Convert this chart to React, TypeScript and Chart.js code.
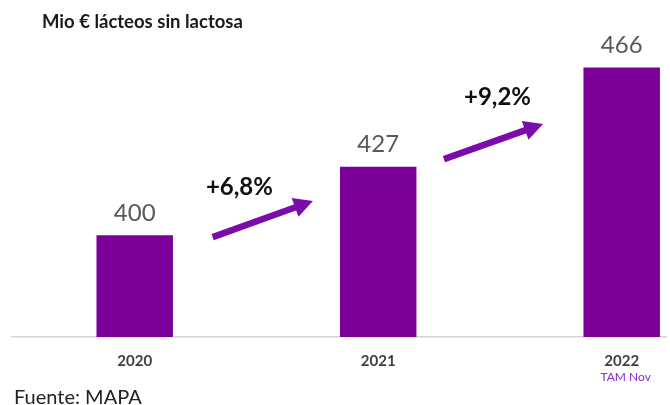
import React, { useEffect, useRef } from "react";
import { Chart, registerables } from "chart.js";

Chart.register(...registerables);

const categories = ["2020", "2021", "2022"];
const values = [400, 427, 466];
const growthLabels = ["+6,8%", "+9,2%"];
// arrows in data units: [x, y]
const arrowFrom = [
  [0.32, 399.3],
  [1.27, 430],
];
const arrowTo = [
  [0.732, 413.5],
  [1.677, 443.8],
];
const growthLabelAt = [
  [0.43, 419],
  [1.49, 454.4],
];
const titleText = "Mio € lácteos sin lactosa";
const sourceText = "Fuente: MAPA";
const lastNote = "TAM Nov";

const BAR = "#7a0099";
const ARROW = "#7a0cab";

const overlay = {
  id: "overlay",
  afterDatasetsDraw(chart: any) {
    const ctx = chart.ctx;
    const xs = chart.scales.x;
    const ys = chart.scales.y;
    ctx.save();
    const meta = chart.getDatasetMeta(0);
    ctx.fillStyle = "#595959";
    ctx.font = "24px Lato";
    ctx.textAlign = "center";
    ctx.textBaseline = "middle";
    meta.data.forEach((bar: any, i: number) => {
      ctx.fillText(String(values[i]), bar.x, bar.y - 22);
    });
    arrowFrom.forEach((f, i) => {
      const t = arrowTo[i];
      const x1 = xs.getPixelForValue(f[0]);
      const y1 = ys.getPixelForValue(f[1]);
      const x2 = xs.getPixelForValue(t[0]);
      const y2 = ys.getPixelForValue(t[1]);
      const dx = x2 - x1;
      const dy = y2 - y1;
      const len = Math.hypot(dx, dy);
      const ux = dx / len;
      const uy = dy / len;
      const headLen = 19;
      const half = 10;
      const bx = x2 - ux * headLen;
      const by = y2 - uy * headLen;
      ctx.strokeStyle = ARROW;
      ctx.lineWidth = 6.5;
      ctx.lineCap = "butt";
      ctx.beginPath();
      ctx.moveTo(x1, y1);
      ctx.lineTo(bx + ux * 2, by + uy * 2);
      ctx.stroke();
      ctx.fillStyle = ARROW;
      ctx.beginPath();
      ctx.moveTo(x2, y2);
      ctx.lineTo(bx - uy * half, by + ux * half);
      ctx.lineTo(bx + uy * half, by - ux * half);
      ctx.closePath();
      ctx.fill();
    });
    ctx.fillStyle = "#111111";
    ctx.font = "bold 24px Lato";
    growthLabels.forEach((g, i) => {
      const p = growthLabelAt[i];
      ctx.fillText(g, xs.getPixelForValue(p[0]), ys.getPixelForValue(p[1]));
    });
    ctx.fillStyle = "#8c2ad6";
    ctx.font = "12px Lato";
    ctx.fillText(lastNote, xs.getPixelForValue(2) + 4, 377);
    ctx.textAlign = "left";
    ctx.textBaseline = "alphabetic";
    ctx.fillStyle = "#1a1a1a";
    ctx.font = "bold 18.5px Lato";
    ctx.fillText(titleText, 42, 28);
    ctx.fillStyle = "#222222";
    ctx.font = "20px Lato";
    ctx.fillText(sourceText, 14, 404);
    ctx.restore();
  },
};

export default function App() {
  const ref = useRef<HTMLCanvasElement | null>(null);
  useEffect(() => {
    if (!ref.current) return;
    const chart = new Chart(ref.current, {
      type: "bar",
      data: {
        datasets: [
          {
            data: values.map((v, i) => ({ x: i, y: v })),
            backgroundColor: BAR,
            borderWidth: 0,
            barPercentage: 0.314,
            categoryPercentage: 1,
          },
        ],
      },
      options: {
        responsive: false,
        animation: false,
        layout: { padding: { left: 12, right: 4, top: 32, bottom: 20 } },
        plugins: {
          legend: { display: false },
          tooltip: { enabled: false },
          title: { display: false },
        },
        scales: {
          x: {
            type: "linear",
            offset: false,
            min: -0.504,
            max: 2.182,
            grid: { display: false, drawTicks: false, offset: false },
            border: { display: true, color: "#d4d4d4", width: 1.5 },
            afterBuildTicks: (s: any) => {
              s.ticks = categories.map((_, i) => ({ value: i }));
            },
            ticks: {
              padding: 15,
              autoSkip: false,
              maxRotation: 0,
              color: "#404040",
              font: { family: "Lato", size: 15, weight: "bold" },
              callback: (v: any) => categories[Math.round(Number(v))] ?? "",
            },
          },
          y: {
            display: false,
            min: 360,
            max: 480,
          },
        },
      },
      plugins: [overlay],
    });
    return () => chart.destroy();
  }, []);
  return (
    <canvas
      ref={ref}
      width={670}
      height={405}
      style={{ position: "fixed", left: 0, top: 0, display: "block", background: "#fff" }}
    />
  );
}
